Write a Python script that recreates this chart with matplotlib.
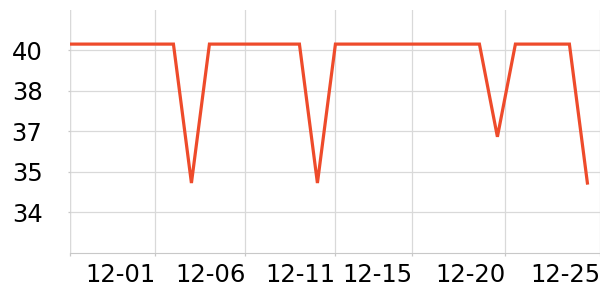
import numpy as np
import pandas as pd
import matplotlib
matplotlib.use('Agg')
import matplotlib.pyplot as plt

# data
dates = pd.date_range('2023-11-26', '2023-12-25', freq='D')
values = [40.65, 40.65, 40.65, 40.65, 40.65,
          40.65, 40.65, 35.15,
          40.65, 40.65, 40.65, 40.65, 40.65, 40.65, 35.15,
          40.65, 40.65, 40.65, 40.65, 40.65, 40.65, 40.65, 40.65, 40.65, 36.98,
          40.65, 40.65, 40.65, 40.65, 35.15]
xtick_pos = [-4.73, 0, 5, 10, 14.27, 19.43, 24.7]
xtick_labels = ['', '12-01', '12-06', '12-11', '12-15', '12-20', '12-25']
ytick_pos = [34.0, 35.6, 37.2, 38.8, 40.4]
ytick_labels = ['34', '35', '37', '38', '40']

days = (dates - pd.Timestamp('2023-12-01')).days.values

fig = plt.figure(figsize=(6, 3), dpi=100)
ax = fig.add_axes([70.3 / 600, 47.5 / 300, 1 - 70.3 / 600, 242.5 / 300])
ax.plot(days, values, color='#ee4b2b', lw=2.3, solid_joinstyle='miter', zorder=3)

ax.set_xlim(-4.73, 24.7)
ax.set_ylim(32.4, 42.0)
ax.set_xticks(xtick_pos)
ax.set_xticklabels(xtick_labels, ha='right')
ax.set_yticks(ytick_pos)
ax.set_yticklabels(ytick_labels)

ax.grid(True, color='#d9d9d9', lw=0.9)
ax.set_axisbelow(True)
for side in ['top', 'right', 'left']:
    ax.spines[side].set_visible(False)
ax.spines['bottom'].set_color('#c8c8c8')
ax.tick_params(axis='x', colors='#c8c8c8', labelcolor='black', labelsize=17.5,
               length=2, width=0.9, pad=5.5)
ax.tick_params(axis='y', colors='#c8c8c8', labelcolor='black', labelsize=17.5,
               length=1.5, width=0.9, pad=18.5)
ax.axvline(-4.73, color='#d9d9d9', lw=0.9, zorder=0)

fig.savefig('out.png', dpi=100)
